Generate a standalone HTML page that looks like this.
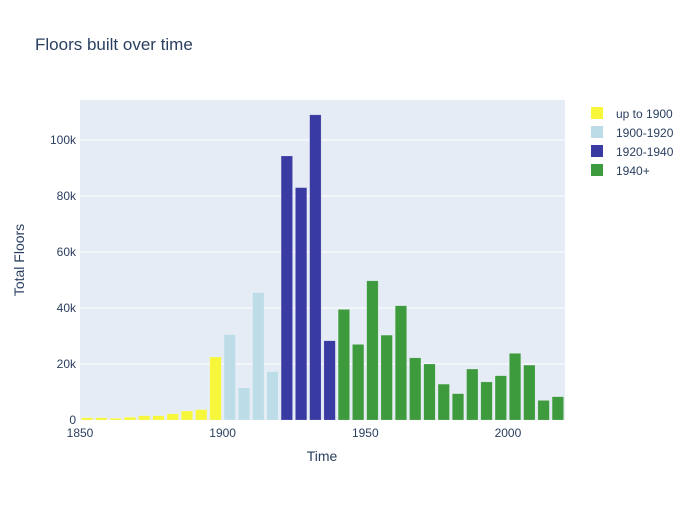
<!DOCTYPE html>
<html><head><meta charset="utf-8"><style>
body{margin:0;background:#fff;font-family:"Liberation Sans",Arial,sans-serif;}
svg text{font-family:"Liberation Sans",Arial,sans-serif;}
</style></head><body>
<svg id="c" width="700" height="500" xmlns="http://www.w3.org/2000/svg">
<rect width="700" height="500" fill="#fff"/>
<text x="35" y="50" font-size="17" fill="#2a3f5f">Floors built over time</text>
<rect x="80" y="100" width="485" height="320" fill="#e5ecf6"/>
<g id="grid"></g><g id="bars"></g><g id="axes"></g><g id="legend"></g>
<text x="322" y="461" font-size="14" fill="#2a3f5f" text-anchor="middle">Time</text>
<text x="24" y="260" font-size="14" fill="#2a3f5f" text-anchor="middle" transform="rotate(-90 24 260)">Total Floors</text>
</svg>
<script>
const years=[1852.5,1857.5,1862.5,1867.5,1872.5,1877.5,1882.5,1887.5,1892.5,1897.5,1902.5,1907.5,1912.5,1917.5,1922.5,1927.5,1932.5,1937.5,1942.5,1947.5,1952.5,1957.5,1962.5,1967.5,1972.5,1977.5,1982.5,1987.5,1992.5,1997.5,2002.5,2007.5,2012.5,2017.5];
const floors=[800,800,600,1000,1500,1500,2200,3200,3700,22500,30500,11500,45500,17300,94300,83000,109000,28300,39500,27000,49700,30300,40800,22200,20000,12800,9400,18200,13600,15800,23800,19600,7000,8300];
const groups=["up to 1900","1900-1920","1920-1940","1940+"];
const groupColors=["#f6f63a","#bcdce8","#3a3aa3","#3d9a3d"];
const xTicks=[1850,1900,1950,2000];
const yTicks=[0,20000,40000,60000,80000,100000];
const yTickLabels=["0","20k","40k","60k","80k","100k"];
const X0=80,X1=565,Y0=420,Y1=100,xmin=1850,xmax=2020,ymin=0,ymax=114300;
const xs=v=>X0+(v-xmin)/(xmax-xmin)*(X1-X0);
const ys=v=>Y0-(v-ymin)/(ymax-ymin)*(Y0-Y1);
const NS="http://www.w3.org/2000/svg";
function mk(t,a,p){const e=document.createElementNS(NS,t);for(const k in a)e.setAttribute(k,a[k]);p.appendChild(e);return e;}
const grid=document.getElementById('grid'),bars=document.getElementById('bars'),axes=document.getElementById('axes'),leg=document.getElementById('legend');
yTicks.forEach((v,i)=>{
 if(v>0){const l=mk('line',{x1:X0,x2:X1,y1:ys(v),y2:ys(v),stroke:'#fff','stroke-width':1},grid);
 
 }
 const t=mk('text',{x:X0-4,y:ys(v)+4,'font-size':12,fill:'#2a3f5f','text-anchor':'end'},axes);t.textContent=yTickLabels[i];
 
 
});
xTicks.forEach(v=>{
 const t=mk('text',{x:xs(v),y:Y0+17,'font-size':12,fill:'#2a3f5f','text-anchor':'middle'},axes);t.textContent=v;
 
 
});
function grp(y){return y<1900?0:y<1920?1:y<1940?2:3;}
const bw=(xs(5)-xs(0))*0.8;
years.forEach((y,i)=>{
 const g=grp(y);
 const r=mk('rect',{x:xs(y)-bw/2,y:ys(floors[i]),width:bw,height:Y0-ys(floors[i]),fill:groupColors[g],stroke:'rgba(255,255,255,0.35)','stroke-width':0.5},bars);
 
 
});
groups.forEach((n,i)=>{
 const y=114+i*19;
 const r=mk('rect',{x:591,y:y-7,width:12,height:12,fill:groupColors[i]},leg);
 
 
 const t=mk('text',{x:616,y:y+4,'font-size':12,fill:'#2a3f5f'},leg);t.textContent=n;
 
 
});
</script>
</body></html>
